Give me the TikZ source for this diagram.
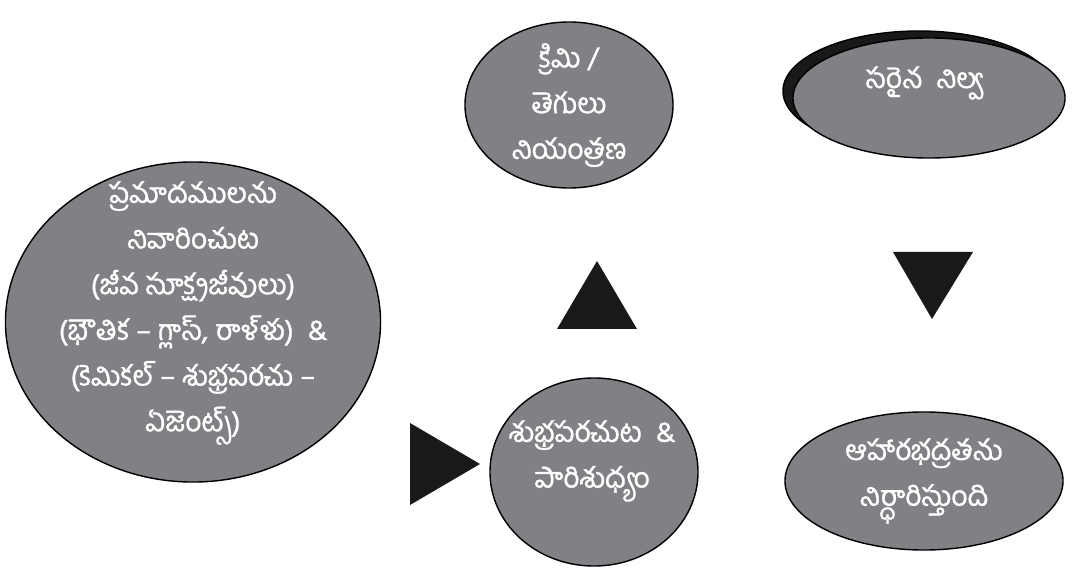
\documentclass[tikz,border=0pt]{standalone}
\usepackage{fontspec}
\newfontfamily\telugu[Script=Telugu, FakeBold=1.2]{Hind Guntur}
\usetikzlibrary{shapes.geometric}
\definecolor{blobgray}{RGB}{128,129,133}

\begin{document}
\begin{tikzpicture}[x=0.025cm, y=-0.025cm,
  blob/.style={ellipse, draw=black, line width=1pt, fill=blobgray, inner sep=0pt},
  txt/.style={text=white, align=center, font=\telugu\fontsize{20}{32.5}\selectfont},
  tri/.style={fill=black!90}]
\useasboundingbox (0,0) rectangle (1081,571);

\node[blob, minimum width=9.375cm, minimum height=8cm](hazard) at (193,322){};
\node[blob, minimum width=5.2cm, minimum height=4.15cm](pest) at (569,105){};
\node[blob, fill=black!90, minimum width=6.8cm, minimum height=3cm](storeshd) at (919,91){};
\node[blob, minimum width=6.8cm, minimum height=3cm](store) at (929,98){};
\node[blob, minimum width=5.2cm, minimum height=4.7cm](clean) at (594,472){};
\node[blob, minimum width=6.95cm, minimum height=3.45cm](result) at (924,481){};

\node[txt](hazardtxt) at (193,313){ప్రమాదములను\\నివారించుట\\(జీవ సూక్ష్మజీవులు)\\(భౌతిక\ – గ్లాస్,\ రాళ్ళు) \ \&\\(కెమికల్\ – శుభ్రపరచు\ –\\ఏజెంట్స్)};
\node[txt](pesttxt) at (569,105){క్రిమి /\\తెగులు\\నియంత్రణ};
\node[txt](storetxt) at (925,83){సరైన\ \ నిల్వ};
\node[txt](cleantxt) at (592,461){శుభ్రపరచుట \ \&\\పారిశుధ్యం};
\node[txt](resulttxt) at (924,481){ఆహారభద్రతను\\నిర్ధారిస్తుంది};

\fill[tri] (410,423) -- (480,464) -- (410,505) -- cycle;
\fill[tri] (557,329) -- (597,261) -- (637,329) -- cycle;
\fill[tri] (893,252) -- (973,252) -- (932,319) -- cycle;
\end{tikzpicture}
\end{document}
